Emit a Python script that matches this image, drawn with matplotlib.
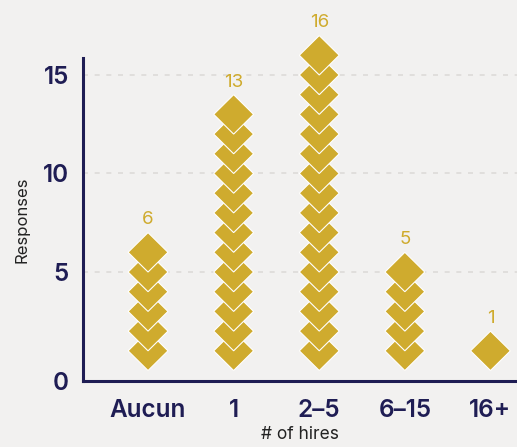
import matplotlib.pyplot as plt
import matplotlib.transforms as mtransforms
from matplotlib.patches import Polygon

categories = ['Aucun', '1', '2–5', '6–15', '16+']
responses = [6, 13, 16, 5, 1]

gold = '#cfab2e'
navy = '#1f1d54'
bg = '#f2f1f0'

plt.rcParams['font.family'] = ['Inter', 'DejaVu Sans']

fig = plt.figure(figsize=(5.17, 4.47), dpi=100, facecolor=bg)
ax = fig.add_axes([0.1605, 0.1477, 0.8395, 0.7225], facecolor=bg)

half_w, half_h = 0.233, 1.0  # diamond half sizes in data units
for i, n in enumerate(responses):
    for k in range(1, n + 1):
        pts = [(i - half_w, k), (i, k + half_h), (i + half_w, k), (i, k - half_h)]
        ax.add_patch(Polygon(pts, closed=True, facecolor=gold, edgecolor='white',
                             linewidth=0.8, zorder=3 + k * 0.01, clip_on=False))
    ax.annotate(str(n), xy=(i, n + half_h), xytext=(0, 3), textcoords='offset points',
                ha='center', va='bottom', color=gold, fontsize=13.5,
                annotation_clip=False)

ax.set_xlim(-0.76, 4.31)
ax.set_ylim(-0.53, 15.86)
ax.set_xticks(range(len(categories)))
ax.set_xticklabels(categories)
ax.set_yticks([0, 5, 10, 15])

for y in [5, 10, 15]:
    ax.axhline(y, color='#dddbd8', linestyle=(0, (3, 4)), linewidth=1.2, zorder=1)

ax.tick_params(axis='both', length=0, colors=navy, labelsize=17.5)
ax.tick_params(axis='x', pad=13)
ax.tick_params(axis='y', pad=10)
for lab in ax.get_xticklabels() + ax.get_yticklabels():
    lab.set_fontweight('semibold')

# the "0" label sits on the axis line in the reference
zero = ax.get_yticklabels()[0]
zero.set_transform(zero.get_transform()
                   + mtransforms.ScaledTranslation(0, -10 / 100, fig.dpi_scale_trans))

for side in ['top', 'right']:
    ax.spines[side].set_visible(False)
for side in ['left', 'bottom']:
    ax.spines[side].set_color(navy)
    ax.spines[side].set_linewidth(2.2)

ax.set_ylabel('Responses', fontsize=12, color='#222222', labelpad=10)
ax.set_xlabel('# of hires', fontsize=12.5, color='#222222', labelpad=3)

fig.savefig('out.png', dpi=100, facecolor=bg)
